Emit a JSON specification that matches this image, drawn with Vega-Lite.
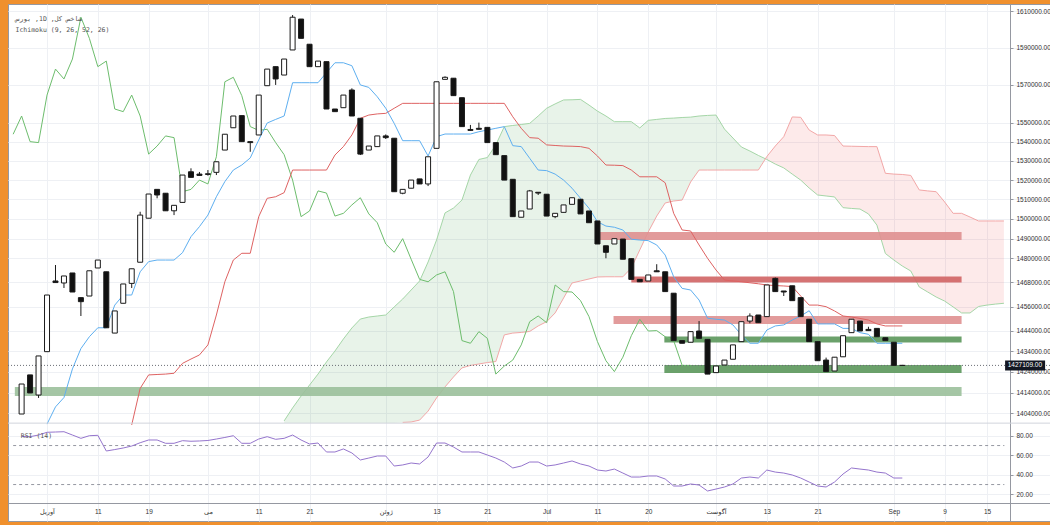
{
"$schema": "https://vega.github.io/schema/vega-lite/v6.json",
"width": 1042,
"height": 517,
"autosize": {"type": "none"},
"padding": {"left": 8, "top": 4, "right": 0, "bottom": 4},
"background": "#f0902d",
"title": {"text": ["\u202bشاخص کل, 1D, بورس\u202c", "Ichimoku (9, 26, 52, 26)"], "anchor": "start", "frame": "group", "orient": "top", "offset": -29, "dx": 7.5, "font": "DejaVu Sans Mono, DejaVu Sans", "fontSize": 6.5, "fontWeight": "normal", "color": "#555555", "lineHeight": 11},
"config": {
  "view": {"fill": "#ffffff", "stroke": "#9598a1", "strokeWidth": 1},
  "font": "Liberation Sans",
  "axis": {"labelFont": "Liberation Sans, DejaVu Sans", "labelFontSize": 6.5, "labelColor": "#333333", "gridColor": "#eef0f4", "domainColor": "#9598a1", "tickColor": "#9598a1"}
},
"data": {"values": [{"k": 1}]},
"datasets": {
"bars": [
{"i":1,"o":1403700,"h":1418100,"l":1403700,"c":1418100},
{"i":2,"o":1422500,"h":1422500,"l":1413800,"c":1413800},
{"i":3,"o":1412800,"h":1431700,"l":1411400,"c":1431700},
{"i":4,"o":1433800,"h":1461700,"l":1433800,"c":1461700},
{"i":5,"o":1468700,"h":1476700,"l":1467900,"c":1467900},
{"i":6,"o":1467700,"h":1471200,"l":1465200,"c":1471200},
{"i":7,"o":1472700,"h":1472700,"l":1463200,"c":1463200},
{"i":8,"o":1460400,"h":1460400,"l":1451300,"c":1458400},
{"i":9,"o":1461200,"h":1473800,"l":1461200,"c":1473800},
{"i":10,"o":1475200,"h":1479200,"l":1475200,"c":1479200},
{"i":11,"o":1473300,"h":1473300,"l":1445500,"c":1445500},
{"i":12,"o":1442900,"h":1453800,"l":1442900,"c":1453800},
{"i":13,"o":1457600,"h":1467200,"l":1457600,"c":1467200},
{"i":14,"o":1467500,"h":1474800,"l":1465200,"c":1474800},
{"i":15,"o":1478100,"h":1503700,"l":1478100,"c":1502000},
{"i":16,"o":1500400,"h":1512800,"l":1500400,"c":1512800},
{"i":17,"o":1515200,"h":1515200,"l":1510600,"c":1512300},
{"i":18,"o":1513200,"h":1513200,"l":1504200,"c":1504200},
{"i":19,"o":1504200,"h":1507000,"l":1502000,"c":1507000},
{"i":20,"o":1508500,"h":1522600,"l":1508500,"c":1522600},
{"i":21,"o":1524300,"h":1526100,"l":1521400,"c":1521400},
{"i":22,"o":1523100,"h":1524200,"l":1522300,"c":1522400},
{"i":23,"o":1522900,"h":1525200,"l":1522300,"c":1523300},
{"i":24,"o":1524000,"h":1529500,"l":1522600,"c":1529500},
{"i":25,"o":1535600,"h":1543900,"l":1535600,"c":1543900},
{"i":26,"o":1547300,"h":1553500,"l":1547300,"c":1553500},
{"i":27,"o":1553700,"h":1553700,"l":1540000,"c":1540000},
{"i":28,"o":1540000,"h":1540000,"l":1534700,"c":1539500},
{"i":29,"o":1543500,"h":1564600,"l":1543500,"c":1564600},
{"i":30,"o":1569600,"h":1578500,"l":1569600,"c":1578500},
{"i":31,"o":1579800,"h":1579800,"l":1570000,"c":1573200},
{"i":32,"o":1575300,"h":1583900,"l":1575300,"c":1583900},
{"i":33,"o":1588800,"h":1607800,"l":1588800,"c":1606600},
{"i":34,"o":1605600,"h":1605600,"l":1595100,"c":1595100},
{"i":35,"o":1591900,"h":1591900,"l":1579800,"c":1579800},
{"i":36,"o":1579800,"h":1582800,"l":1579800,"c":1582800},
{"i":37,"o":1582500,"h":1582500,"l":1557200,"c":1557200},
{"i":38,"o":1557200,"h":1557200,"l":1555800,"c":1555800},
{"i":39,"o":1557900,"h":1564600,"l":1557900,"c":1564600},
{"i":40,"o":1567300,"h":1568200,"l":1553500,"c":1553500},
{"i":41,"o":1552300,"h":1552300,"l":1533000,"c":1533500},
{"i":42,"o":1535600,"h":1537700,"l":1535600,"c":1537700},
{"i":43,"o":1537400,"h":1543000,"l":1537400,"c":1543000},
{"i":44,"o":1543000,"h":1543800,"l":1541400,"c":1542100},
{"i":45,"o":1541800,"h":1541800,"l":1514000,"c":1514000},
{"i":46,"o":1513200,"h":1515200,"l":1512700,"c":1515200},
{"i":47,"o":1515800,"h":1520000,"l":1515800,"c":1520000},
{"i":48,"o":1520600,"h":1520600,"l":1518000,"c":1518000},
{"i":49,"o":1518000,"h":1532100,"l":1516900,"c":1532100},
{"i":50,"o":1536500,"h":1571700,"l":1536500,"c":1571700},
{"i":51,"o":1573000,"h":1574600,"l":1573000,"c":1574100},
{"i":52,"o":1573600,"h":1573600,"l":1564300,"c":1564300},
{"i":53,"o":1563200,"h":1563200,"l":1547900,"c":1547900},
{"i":54,"o":1546400,"h":1548800,"l":1545600,"c":1545900},
{"i":55,"o":1547000,"h":1550000,"l":1546400,"c":1546500},
{"i":56,"o":1547500,"h":1547500,"l":1539500,"c":1539500},
{"i":57,"o":1539500,"h":1539500,"l":1533200,"c":1533200},
{"i":58,"o":1532700,"h":1532700,"l":1520000,"c":1520000},
{"i":59,"o":1520400,"h":1520400,"l":1501200,"c":1501200},
{"i":60,"o":1500900,"h":1504100,"l":1500900,"c":1504100},
{"i":61,"o":1505100,"h":1514900,"l":1505100,"c":1514400},
{"i":62,"o":1513700,"h":1513700,"l":1512300,"c":1513300},
{"i":63,"o":1512700,"h":1512700,"l":1501500,"c":1501500},
{"i":64,"o":1501200,"h":1502900,"l":1500400,"c":1502900},
{"i":65,"o":1503400,"h":1507200,"l":1503400,"c":1507200},
{"i":66,"o":1507500,"h":1510900,"l":1507500,"c":1510900},
{"i":67,"o":1510100,"h":1510100,"l":1502600,"c":1502600},
{"i":68,"o":1504100,"h":1504100,"l":1498100,"c":1498100},
{"i":69,"o":1499000,"h":1499000,"l":1487300,"c":1487300},
{"i":70,"o":1486400,"h":1486400,"l":1480100,"c":1483100},
{"i":71,"o":1487300,"h":1490000,"l":1487300,"c":1490000},
{"i":72,"o":1489800,"h":1489800,"l":1479600,"c":1479600},
{"i":73,"o":1479900,"h":1479900,"l":1469500,"c":1469500},
{"i":74,"o":1469500,"h":1469500,"l":1468300,"c":1468300},
{"i":75,"o":1468700,"h":1471700,"l":1468700,"c":1471700},
{"i":76,"o":1473800,"h":1477100,"l":1473200,"c":1473300},
{"i":77,"o":1473300,"h":1473300,"l":1463400,"c":1463400},
{"i":78,"o":1462600,"h":1462600,"l":1439200,"c":1439200},
{"i":79,"o":1439200,"h":1439200,"l":1437900,"c":1437900},
{"i":80,"o":1438400,"h":1443600,"l":1438400,"c":1443600},
{"i":81,"o":1443900,"h":1448800,"l":1440300,"c":1440300},
{"i":82,"o":1439800,"h":1439800,"l":1422900,"c":1422900},
{"i":83,"o":1423600,"h":1426800,"l":1423600,"c":1426800},
{"i":84,"o":1427300,"h":1429700,"l":1427300,"c":1429700},
{"i":85,"o":1430100,"h":1437100,"l":1430100,"c":1437100},
{"i":86,"o":1438700,"h":1448500,"l":1438700,"c":1448500},
{"i":87,"o":1448800,"h":1452600,"l":1447700,"c":1451300},
{"i":88,"o":1451800,"h":1451800,"l":1448000,"c":1448000},
{"i":89,"o":1451000,"h":1466700,"l":1451000,"c":1466700},
{"i":90,"o":1470000,"h":1470400,"l":1463400,"c":1463400},
{"i":91,"o":1463700,"h":1463700,"l":1461200,"c":1463200},
{"i":92,"o":1466300,"h":1466300,"l":1458900,"c":1458900},
{"i":93,"o":1460400,"h":1460400,"l":1451000,"c":1451000},
{"i":94,"o":1449700,"h":1449700,"l":1438700,"c":1438700},
{"i":95,"o":1438700,"h":1438700,"l":1429400,"c":1429400},
{"i":96,"o":1429700,"h":1430900,"l":1424100,"c":1424100},
{"i":97,"o":1424400,"h":1431100,"l":1424400,"c":1431100},
{"i":98,"o":1431300,"h":1441600,"l":1431300,"c":1441600},
{"i":99,"o":1443100,"h":1449700,"l":1443100,"c":1449700},
{"i":100,"o":1448800,"h":1448800,"l":1443900,"c":1443900},
{"i":101,"o":1444700,"h":1446000,"l":1444100,"c":1444100},
{"i":102,"o":1445200,"h":1445200,"l":1441100,"c":1441100},
{"i":103,"o":1440600,"h":1440600,"l":1439200,"c":1439200},
{"i":104,"o":1438400,"h":1438400,"l":1427109,"c":1427109},
{"i":105,"o":1427109,"h":1427109,"l":1427109,"c":1427109}
],
"ichi": [
{"i":0,"ch":1543900},
{"i":1,"ch":1553500},
{"i":2,"ch":1540000},
{"i":3,"ch":1539500},
{"i":4,"ch":1564600,"tk":1398900},
{"i":5,"ch":1578500,"tk":1407100},
{"i":6,"ch":1573200,"tk":1411600},
{"i":7,"ch":1583900,"tk":1425400},
{"i":8,"ch":1606600,"tk":1435300},
{"i":9,"ch":1595100,"tk":1441100},
{"i":10,"ch":1579800,"tk":1445500},
{"i":11,"ch":1582800,"tk":1445500},
{"i":12,"ch":1557200,"tk":1456700},
{"i":13,"ch":1555800,"tk":1461700},
{"i":14,"ch":1564600,"tk":1461700,"kj":1398500},
{"i":15,"ch":1553500,"tk":1473300,"kj":1416000},
{"i":16,"ch":1533500,"tk":1478400,"kj":1422500},
{"i":17,"ch":1537700,"tk":1479200,"kj":1422700},
{"i":18,"ch":1543000,"tk":1479200,"kj":1422900},
{"i":19,"ch":1542100,"tk":1479200,"kj":1423300},
{"i":20,"ch":1514000,"tk":1482900,"kj":1428100},
{"i":21,"ch":1515200,"tk":1491000,"kj":1430200},
{"i":22,"ch":1520000,"tk":1496100,"kj":1432200},
{"i":23,"ch":1518000,"tk":1502000,"kj":1437100},
{"i":24,"ch":1532100,"tk":1511400,"kj":1451800},
{"i":25,"ch":1571700,"tk":1519200,"kj":1468300},
{"i":26,"ch":1574100,"tk":1525200,"kj":1479200},
{"i":27,"ch":1564300,"tk":1527800,"kj":1482600},
{"i":28,"ch":1547900,"tk":1531500,"kj":1482600},
{"i":29,"ch":1545900,"tk":1540900,"kj":1501200},
{"i":30,"ch":1546500,"tk":1549800,"kj":1510600},
{"i":31,"ch":1539500,"tk":1551700,"kj":1511400},
{"i":32,"ch":1533200,"tk":1553500,"kj":1513500},
{"i":33,"ch":1520000,"tk":1571200,"kj":1525200},
{"i":34,"ch":1501200,"tk":1571200,"kj":1525200},
{"i":35,"ch":1504100,"tk":1571200,"kj":1525200},
{"i":36,"ch":1514400,"tk":1571200,"kj":1525200},
{"i":37,"ch":1513300,"tk":1576600,"kj":1525200},
{"i":38,"ch":1501500,"tk":1581900,"kj":1533000},
{"i":39,"ch":1502900,"tk":1581900,"kj":1537400},
{"i":40,"ch":1507200,"tk":1580300,"kj":1543500},
{"i":41,"ch":1510900,"tk":1570000,"kj":1552300},
{"i":42,"ch":1502600,"tk":1568700,"kj":1554000},
{"i":43,"ch":1498100,"tk":1563700,"kj":1554600},
{"i":44,"ch":1487300,"tk":1557600,"kj":1554900},
{"i":45,"ch":1483100,"tk":1549600,"kj":1557600},
{"i":46,"ch":1490000,"tk":1540500,"kj":1560200},
{"i":47,"ch":1479600,"tk":1540500,"kj":1560200},
{"i":48,"ch":1469500,"tk":1540500,"kj":1560200},
{"i":49,"ch":1468300,"tk":1532500,"kj":1560200},
{"i":50,"ch":1471700,"tk":1542600,"kj":1560200},
{"i":51,"ch":1473300,"tk":1544000,"kj":1560200},
{"i":52,"ch":1463400,"tk":1544000,"kj":1560200},
{"i":53,"ch":1439200,"tk":1544000,"kj":1560200},
{"i":54,"ch":1437900,"tk":1544000,"kj":1560200},
{"i":55,"ch":1443600,"tk":1545200,"kj":1560200},
{"i":56,"ch":1440300,"tk":1546100,"kj":1560200},
{"i":57,"ch":1422900,"tk":1547000,"kj":1560200},
{"i":58,"ch":1426800,"tk":1547900,"kj":1560200},
{"i":59,"ch":1429700,"tk":1537900,"kj":1553100},
{"i":60,"ch":1437100,"tk":1537400,"kj":1547000},
{"i":61,"ch":1448500,"tk":1531300,"kj":1542100},
{"i":62,"ch":1451300,"tk":1525200,"kj":1541800},
{"i":63,"ch":1448000,"tk":1524900,"kj":1538300},
{"i":64,"ch":1466700,"tk":1523100,"kj":1538000},
{"i":65,"ch":1463400,"tk":1520000,"kj":1537700},
{"i":66,"ch":1463200,"tk":1515800,"kj":1537600},
{"i":67,"ch":1458900,"tk":1510600,"kj":1537400},
{"i":68,"ch":1451000,"tk":1505500,"kj":1536500},
{"i":69,"ch":1438700,"tk":1498600,"kj":1532500},
{"i":70,"ch":1429400,"tk":1496400,"kj":1527800},
{"i":71,"ch":1424100,"tk":1495800,"kj":1527700},
{"i":72,"ch":1431100,"tk":1494400,"kj":1527500},
{"i":73,"ch":1441600,"tk":1489700,"kj":1525200},
{"i":74,"ch":1449700,"tk":1489300,"kj":1521700},
{"i":75,"ch":1443900,"tk":1489000,"kj":1521700},
{"i":76,"ch":1444100,"tk":1486800,"kj":1521700},
{"i":77,"ch":1441100,"tk":1481700,"kj":1518600},
{"i":78,"ch":1439200,"tk":1470800,"kj":1502900},
{"i":79,"ch":1427109,"tk":1465000,"kj":1494400},
{"i":80,"ch":1427109,"tk":1464200,"kj":1493900},
{"i":81,"tk":1459200,"kj":1486800},
{"i":82,"tk":1450200,"kj":1480100},
{"i":83,"tk":1449700,"kj":1474200},
{"i":84,"tk":1449300,"kj":1469200},
{"i":85,"tk":1446900,"kj":1468700},
{"i":86,"tk":1442000,"kj":1468300},
{"i":87,"tk":1437900,"kj":1467800},
{"i":88,"tk":1437900,"kj":1467300},
{"i":89,"tk":1444400,"kj":1466700},
{"i":90,"tk":1446400,"kj":1466400},
{"i":91,"tk":1446900,"kj":1466200},
{"i":92,"tk":1449300,"kj":1465900},
{"i":93,"tk":1451300,"kj":1461200},
{"i":94,"tk":1453900,"kj":1456700},
{"i":95,"tk":1447400,"kj":1456700},
{"i":96,"tk":1447400,"kj":1455900},
{"i":97,"tk":1447400,"kj":1453800},
{"i":98,"tk":1445200,"kj":1451300},
{"i":99,"tk":1445200,"kj":1450800},
{"i":100,"tk":1443100,"kj":1450100},
{"i":101,"tk":1442300,"kj":1449300},
{"i":102,"tk":1437900,"kj":1447400},
{"i":103,"tk":1437900,"kj":1446400},
{"i":104,"tk":1437900,"kj":1446400},
{"i":105,"tk":1437900,"kj":1446400}
],
"cloud": [
{"i":32,"a":1400400},{"i":33,"a":1406600},{"i":34,"a":1412300},{"i":35,"a":1417600},{"i":36,"a":1422900},
{"i":37,"a":1428800},{"i":38,"a":1434100},{"i":39,"a":1440000},{"i":40,"a":1445400},{"i":41,"a":1449800},
{"i":42,"a":1450800},{"i":43,"a":1451300},{"i":44,"a":1451800},{"i":45,"a":1455800},
{"i":46,"a":1459700,"b":1399700},{"i":47,"a":1464200,"b":1399900},{"i":48,"a":1468700,"b":1400800},
{"i":49,"a":1478200,"b":1405100},{"i":50,"a":1489300,"b":1411400},{"i":51,"a":1503100,"b":1416700},
{"i":52,"a":1505600,"b":1421500},{"i":53,"a":1509700,"b":1425900},{"i":54,"a":1522600,"b":1427100},
{"i":55,"a":1530700,"b":1427800},{"i":56,"a":1531700,"b":1428500},{"i":57,"a":1538300,"b":1429000},
{"i":58,"a":1547900,"b":1442000},{"i":59,"a":1548500,"b":1442900},{"i":60,"a":1549000,"b":1443200},
{"i":61,"a":1549600,"b":1443700},{"i":62,"a":1553500,"b":1446400},{"i":63,"a":1557600,"b":1448500},
{"i":64,"a":1559900,"b":1452800},{"i":65,"a":1562000,"b":1460200},{"i":66,"a":1562100,"b":1467700},
{"i":67,"a":1562300,"b":1468700},{"i":68,"a":1559300,"b":1469700},{"i":69,"a":1556100,"b":1470700},
{"i":70,"a":1553500,"b":1470800},{"i":71,"a":1550500,"b":1470800},{"i":72,"a":1550500,"b":1470800},
{"i":73,"a":1550500,"b":1475200},{"i":74,"a":1547200,"b":1484300},{"i":75,"a":1551200,"b":1493400},
{"i":76,"a":1551700,"b":1501500},{"i":77,"a":1552200,"b":1508200},{"i":78,"a":1552400,"b":1509200},
{"i":79,"a":1552700,"b":1509700},{"i":80,"a":1552900,"b":1519000},{"i":81,"a":1553500,"b":1525200},
{"i":82,"a":1553800,"b":1525200},{"i":83,"a":1554000,"b":1525200},{"i":84,"a":1546600,"b":1525200},
{"i":85,"a":1541900,"b":1525200},{"i":86,"a":1537200,"b":1525200},{"i":87,"a":1535100,"b":1525200},
{"i":88,"a":1532800,"b":1525200},{"i":89,"a":1530700,"b":1532200},{"i":90,"a":1528300,"b":1537700},
{"i":91,"a":1526300,"b":1542600},{"i":92,"a":1523100,"b":1553000},{"i":93,"a":1520000,"b":1552800},
{"i":94,"a":1515900,"b":1546100},{"i":95,"a":1512300,"b":1543500},{"i":96,"a":1511800,"b":1543500},
{"i":97,"a":1511300,"b":1543200},{"i":98,"a":1505800,"b":1537700},{"i":99,"a":1505400,"b":1537600},
{"i":100,"a":1505100,"b":1537500},{"i":101,"a":1502600,"b":1537400},{"i":102,"a":1496900,"b":1537400},
{"i":103,"a":1482500,"b":1523500},{"i":104,"a":1479200,"b":1523100},{"i":105,"a":1476200,"b":1522900},
{"i":106,"a":1473700,"b":1522400},{"i":107,"a":1465700,"b":1514900},{"i":108,"a":1463200,"b":1514400},
{"i":109,"a":1460700,"b":1514000},{"i":110,"a":1458700,"b":1508700},{"i":111,"a":1455800,"b":1502900},
{"i":112,"a":1452800,"b":1502900},{"i":113,"a":1452800,"b":1501000},{"i":114,"a":1456000,"b":1499000},
{"i":115,"a":1456700,"b":1499000},{"i":116,"a":1457200,"b":1499000},{"i":117,"a":1457600,"b":1499000}
],
"gfill": [
{"i":32,"t":1400400,"b":1399400},{"i":33,"t":1406600,"b":1399400},{"i":34,"t":1412300,"b":1399400},
{"i":35,"t":1417600,"b":1399400},{"i":36,"t":1422900,"b":1399400},{"i":37,"t":1428800,"b":1399400},
{"i":38,"t":1434100,"b":1399400},{"i":39,"t":1440000,"b":1399400},{"i":40,"t":1445400,"b":1399400},
{"i":41,"t":1449800,"b":1399400},{"i":42,"t":1450800,"b":1399400},{"i":43,"t":1451300,"b":1399400},
{"i":44,"t":1451800,"b":1399400},{"i":45,"t":1455800,"b":1399400},{"i":46,"t":1459700,"b":1399700},
{"i":47,"t":1464200,"b":1399900},{"i":48,"t":1468700,"b":1400800},{"i":49,"t":1478200,"b":1405100},
{"i":50,"t":1489300,"b":1411400},{"i":51,"t":1503100,"b":1416700},{"i":52,"t":1505600,"b":1421500},
{"i":53,"t":1509700,"b":1425900},{"i":54,"t":1522600,"b":1427100},{"i":55,"t":1530700,"b":1427800},
{"i":56,"t":1531700,"b":1428500},{"i":57,"t":1538300,"b":1429000},{"i":58,"t":1547900,"b":1442000},
{"i":59,"t":1548500,"b":1442900},{"i":60,"t":1549000,"b":1443200},{"i":61,"t":1549600,"b":1443700},
{"i":62,"t":1553500,"b":1446400},{"i":63,"t":1557600,"b":1448500},{"i":64,"t":1559900,"b":1452800},
{"i":65,"t":1562000,"b":1460200},{"i":66,"t":1562100,"b":1467700},{"i":67,"t":1562300,"b":1468700},
{"i":68,"t":1559300,"b":1469700},{"i":69,"t":1556100,"b":1470700},{"i":70,"t":1553500,"b":1470800},
{"i":71,"t":1550500,"b":1470800},{"i":72,"t":1550500,"b":1470800},{"i":73,"t":1550500,"b":1475200},
{"i":74,"t":1547200,"b":1484300},{"i":75,"t":1551200,"b":1493400},{"i":76,"t":1551700,"b":1501500},
{"i":77,"t":1552200,"b":1508200},{"i":78,"t":1552400,"b":1509200},{"i":79,"t":1552700,"b":1509700},
{"i":80,"t":1552900,"b":1519000},{"i":81,"t":1553500,"b":1525200},{"i":82,"t":1553800,"b":1525200},
{"i":83,"t":1554000,"b":1525200},{"i":84,"t":1546600,"b":1525200},{"i":85,"t":1541900,"b":1525200},
{"i":86,"t":1537200,"b":1525200},{"i":87,"t":1535100,"b":1525200},{"i":88,"t":1532800,"b":1525200},
{"i":88.835,"t":1531000,"b":1531000}
],
"rfill": [
{"i":88.835,"t":1531000,"b":1531000},
{"i":89,"t":1532200,"b":1530700},{"i":90,"t":1537700,"b":1528300},{"i":91,"t":1542600,"b":1526300},
{"i":92,"t":1553000,"b":1523100},{"i":93,"t":1552800,"b":1520000},{"i":94,"t":1546100,"b":1515900},
{"i":95,"t":1543500,"b":1512300},{"i":96,"t":1543500,"b":1511800},{"i":97,"t":1543200,"b":1511300},
{"i":98,"t":1537700,"b":1505800},{"i":99,"t":1537600,"b":1505400},{"i":100,"t":1537500,"b":1505100},
{"i":101,"t":1537400,"b":1502600},{"i":102,"t":1537400,"b":1496900},{"i":103,"t":1523500,"b":1482500},
{"i":104,"t":1523100,"b":1479200},{"i":105,"t":1522900,"b":1476200},{"i":106,"t":1522400,"b":1473700},
{"i":107,"t":1514900,"b":1465700},{"i":108,"t":1514400,"b":1463200},{"i":109,"t":1514000,"b":1460700},
{"i":110,"t":1508700,"b":1458700},{"i":111,"t":1502900,"b":1455800},{"i":112,"t":1502900,"b":1452800},
{"i":113,"t":1501000,"b":1452800},{"i":114,"t":1499000,"b":1456000},{"i":115,"t":1499000,"b":1456700},
{"i":116,"t":1499000,"b":1457200},{"i":117,"t":1499000,"b":1457600}
],
"zones": [
{"z":"r1","xa":69.3,"xb":112,"p1":1493400,"p2":1489300},
{"z":"r2","xa":73.0,"xb":112,"p1":1470900,"p2":1467900},
{"z":"r3","xa":70.9,"xb":112,"p1":1451300,"p2":1447400},
{"z":"g1","xa":76.9,"xb":112,"p1":1441200,"p2":1438300},
{"z":"g2","xa":76.9,"xb":112,"p1":1427300,"p2":1423400},
{"z":"g3","xa":0.2,"xb":112,"p1":1416700,"p2":1412300}
],
"lastprice": [{"p": 1427109, "label": "1427109.00"}],
"rsi": [
{"i":1,"v":79.3},{"i":2,"v":79.1},{"i":3,"v":80.8},{"i":4,"v":83.6},{"i":5,"v":83.9},{"i":6,"v":84.2},
{"i":7,"v":80.8},{"i":8,"v":77.4},{"i":9,"v":80.1},{"i":10,"v":80.5},{"i":11,"v":64.4},{"i":12,"v":65.9},
{"i":13,"v":67.5},{"i":14,"v":69.5},{"i":15,"v":72.9},{"i":16,"v":75.7},{"i":17,"v":75.7},{"i":18,"v":72.3},
{"i":19,"v":72.3},{"i":20,"v":75},{"i":21,"v":74.4},{"i":22,"v":74.7},{"i":23,"v":75.2},{"i":24,"v":76.7},
{"i":25,"v":78.3},{"i":26,"v":80.1},{"i":27,"v":72.3},{"i":28,"v":72.3},{"i":29,"v":76.7},{"i":30,"v":79.1},
{"i":31,"v":76.4},{"i":32,"v":77.4},{"i":33,"v":80.8},{"i":34,"v":75.7},{"i":35,"v":71.6},{"i":36,"v":72.6},
{"i":37,"v":63.4},{"i":38,"v":63.4},{"i":39,"v":66.5},{"i":40,"v":62.4},{"i":41,"v":55.2},{"i":42,"v":57.2},
{"i":43,"v":59.3},{"i":44,"v":59.3},{"i":45,"v":49},{"i":46,"v":50.1},{"i":47,"v":52.1},{"i":48,"v":51.1},
{"i":49,"v":58.3},{"i":50,"v":72.6},{"i":51,"v":72.6},{"i":52,"v":68.5},{"i":53,"v":63.4},{"i":54,"v":63.4},
{"i":55,"v":63.4},{"i":56,"v":60.3},{"i":57,"v":57.2},{"i":58,"v":53.1},{"i":59,"v":47},{"i":60,"v":49},
{"i":61,"v":53.1},{"i":62,"v":53.1},{"i":63,"v":49},{"i":64,"v":50.1},{"i":65,"v":52.1},{"i":66,"v":54.2},
{"i":67,"v":51.1},{"i":68,"v":49},{"i":69,"v":44.9},{"i":70,"v":43.9},{"i":71,"v":45.9},{"i":72,"v":41.8},
{"i":73,"v":37.7},{"i":74,"v":37.7},{"i":75,"v":38.8},{"i":76,"v":38.8},{"i":77,"v":35.7},{"i":78,"v":28.5},
{"i":79,"v":28.5},{"i":80,"v":30.6},{"i":81,"v":29.5},{"i":82,"v":23.4},{"i":83,"v":25.4},{"i":84,"v":27.5},
{"i":85,"v":30.6},{"i":86,"v":36.7},{"i":87,"v":37.7},{"i":88,"v":36.7},{"i":89,"v":44.9},{"i":90,"v":42.8},
{"i":91,"v":41.8},{"i":92,"v":39.8},{"i":93,"v":36.7},{"i":94,"v":32.6},{"i":95,"v":28.5},{"i":96,"v":27.5},
{"i":97,"v":32.6},{"i":98,"v":40.8},{"i":99,"v":47},{"i":100,"v":45.9},{"i":101,"v":44.9},{"i":102,"v":42.8},
{"i":103,"v":41.8},{"i":104,"v":36.7},{"i":105,"v":36.7}
],
"levels": [{"v": 70}, {"v": 30}]
},
"layer": [
{"data": {"name": "gfill"}, "mark": {"type": "area", "color": "#43a047", "opacity": 0.12},
 "encoding": {"x": {"field": "i", "type": "quantitative", "scale": {"domain": [-0.0175, 121.85], "nice": false, "zero": false}},
  "y": {"field": "t", "type": "quantitative", "scale": {"type": "log", "domain": [1353521, 1613844], "nice": false}, "axis": null},
  "y2": {"field": "b"}}},
{"data": {"name": "rfill"}, "mark": {"type": "area", "color": "#ef5350", "opacity": 0.12},
 "encoding": {"x": {"field": "i", "type": "quantitative"},
  "y": {"field": "t", "type": "quantitative", "scale": {"type": "log", "domain": [1353521, 1613844], "nice": false}, "axis": null},
  "y2": {"field": "b"}}},
{"data": {"name": "cloud"}, "mark": {"type": "line", "color": "#a5d6a7", "strokeWidth": 1},
 "encoding": {"x": {"field": "i", "type": "quantitative"},
  "y": {"field": "a", "type": "quantitative", "scale": {"type": "log", "domain": [1353521, 1613844], "nice": false}, "axis": null}}},
{"data": {"name": "cloud"}, "mark": {"type": "line", "color": "#f2a7a7", "strokeWidth": 1},
 "encoding": {"x": {"field": "i", "type": "quantitative"},
  "y": {"field": "b", "type": "quantitative", "scale": {"type": "log", "domain": [1353521, 1613844], "nice": false}, "axis": null}}},
{"data": {"name": "zones"}, "mark": {"type": "rect", "opacity": 0.9},
 "encoding": {"x": {"field": "xa", "type": "quantitative"}, "x2": {"field": "xb"},
  "y": {"field": "p1", "type": "quantitative", "scale": {"type": "log", "domain": [1353521, 1613844], "nice": false}, "axis": null}, "y2": {"field": "p2"},
  "color": {"field": "z", "type": "nominal", "legend": null, "scale": {"domain": ["r1","r2","r3","g1","g2","g3"], "range": ["#df9090","#d06464","#df9090","#5b975b","#5b975b","#9bc09b"]}}}},
{"data": {"name": "ichi"}, "mark": {"type": "line", "color": "#6dbd6d", "strokeWidth": 1},
 "encoding": {"x": {"field": "i", "type": "quantitative"},
  "y": {"field": "ch", "type": "quantitative", "scale": {"type": "log", "domain": [1353521, 1613844], "nice": false}, "axis": null}}},
{"data": {"name": "ichi"}, "mark": {"type": "line", "color": "#de6262", "strokeWidth": 1},
 "encoding": {"x": {"field": "i", "type": "quantitative"},
  "y": {"field": "kj", "type": "quantitative", "scale": {"type": "log", "domain": [1353521, 1613844], "nice": false}, "axis": null}}},
{"data": {"name": "ichi"}, "mark": {"type": "line", "color": "#5eaff0", "strokeWidth": 1},
 "encoding": {"x": {"field": "i", "type": "quantitative"},
  "y": {"field": "tk", "type": "quantitative", "scale": {"type": "log", "domain": [1353521, 1613844], "nice": false}, "axis": null}}},
{"data": {"name": "lastprice"}, "mark": {"type": "rule", "color": "#6b6e76", "strokeWidth": 1, "strokeDash": [1, 2]},
 "encoding": {"y": {"field": "p", "type": "quantitative", "scale": {"type": "log", "domain": [1353521, 1613844], "nice": false}, "axis": null}}},
{"data": {"name": "bars"}, "mark": {"type": "rule", "color": "#1a1a1a", "strokeWidth": 1},
 "encoding": {"x": {"field": "i", "type": "quantitative"},
  "y": {"field": "l", "type": "quantitative", "scale": {"type": "log", "domain": [1353521, 1613844], "nice": false}, "axis": null}, "y2": {"field": "h"}}},
{"data": {"name": "bars"}, "mark": {"type": "bar", "size": 5, "stroke": "#1a1a1a", "strokeWidth": 1},
 "encoding": {
  "x": {"field": "i", "type": "quantitative", "scale": {"domain": [-0.0175, 121.85], "nice": false, "zero": false},
   "axis": {"orient": "bottom", "offset": -18, "title": null, "values": [4,10,16,23,29,35,44,50,56,63,69,75,83,89,95,104,110,115],
    "labelExpr": "['آوریل','11','19','می','11','21','ژوئن','13','21','Jul','11','20','آگوست','13','21','Sep','9','15'][indexof([4,10,16,23,29,35,44,50,56,63,69,75,83,89,95,104,110,115], datum.value)]",
    "grid": true, "ticks": false, "labelPadding": 5, "labelFlush": false, "labelOverlap": false}},
  "y": {"field": "o", "type": "quantitative", "scale": {"type": "log", "domain": [1353521, 1613844], "nice": false},
   "axis": {"orient": "right", "offset": -40, "title": null, "values": [1610000,1590000,1570000,1550000,1540000,1530000,1520000,1510000,1500000,1490000,1480000,1468000,1456000,1444000,1434000,1424000,1414000,1404000],
    "format": ".2f", "grid": true, "tickSize": 3, "labelPadding": 3, "labelOverlap": false, "labelFlush": false}},
  "y2": {"field": "c"},
  "fill": {"condition": {"test": "datum.c >= datum.o", "value": "#ffffff"}, "value": "#111111"}}},
{"data": {"name": "lastprice"}, "mark": {"type": "tick", "orient": "horizontal", "size": 40, "thickness": 10, "color": "#131722", "opacity": 1},
 "encoding": {"x": {"datum": 119.5, "type": "quantitative"},
  "y": {"field": "p", "type": "quantitative", "scale": {"type": "log", "domain": [1353521, 1613844], "nice": false}, "axis": null}}},
{"data": {"name": "lastprice"}, "mark": {"type": "text", "align": "left", "baseline": "middle", "color": "#ffffff", "fontSize": 6.5, "font": "Liberation Sans"},
 "encoding": {"x": {"datum": 117.45, "type": "quantitative"},
  "y": {"field": "p", "type": "quantitative", "scale": {"type": "log", "domain": [1353521, 1613844], "nice": false}, "axis": null},
  "text": {"field": "label"}}},
{"mark": {"type": "rule", "color": "#d1d4dc", "strokeWidth": 1},
 "encoding": {"y": {"datum": 93, "type": "quantitative", "scale": {"domain": [-7.38, 522.87], "nice": false, "zero": false}, "axis": null}}},
{"data": {"name": "levels"}, "mark": {"type": "rule", "color": "#9598a1", "strokeWidth": 1, "strokeDash": [3, 3]},
 "encoding": {"x": {"datum": 0, "type": "quantitative"}, "x2": {"datum": 117.05},
  "y": {"field": "v", "type": "quantitative", "scale": {"domain": [-7.38, 522.87], "nice": false, "zero": false}, "axis": null}}},
{"data": {"name": "rsi"}, "mark": {"type": "line", "color": "#9575cd", "strokeWidth": 1},
 "encoding": {"x": {"field": "i", "type": "quantitative"},
  "y": {"field": "v", "type": "quantitative", "scale": {"domain": [-7.38, 522.87], "nice": false, "zero": false},
   "axis": {"orient": "right", "offset": -40, "title": null, "values": [20, 40, 60, 80], "format": ".2f", "grid": true, "domain": false, "tickSize": 3, "labelPadding": 3}}}},
{"mark": {"type": "text", "align": "left", "baseline": "middle", "color": "#555555", "fontSize": 6.5, "font": "DejaVu Sans Mono"},
 "encoding": {"x": {"datum": 0.9, "type": "quantitative"},
  "y": {"datum": 79.5, "type": "quantitative", "scale": {"domain": [-7.38, 522.87], "nice": false, "zero": false}, "axis": null},
  "text": {"value": "RSI (14)"}}}
],
"resolve": {"scale": {"y": "independent"}, "axis": {"y": "independent"}}
}
